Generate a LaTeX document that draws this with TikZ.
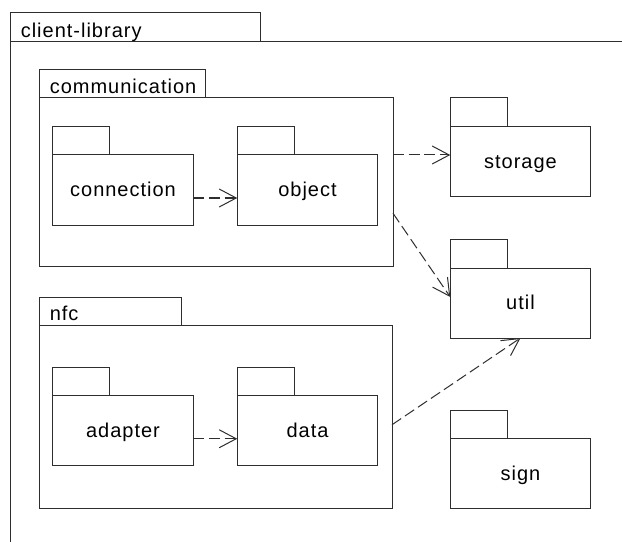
\documentclass[tikz,border=0pt]{standalone}
\usepackage{fontspec}
\setmainfont{Liberation Sans}[LetterSpace=5]
\usetikzlibrary{arrows.meta,calc}

% one unit = one pixel of the 622 x 542 canvas
\newdimen\pxu \pxu=0.75pt

\tikzset{
  ink/.style={draw=black!82, line width=0.75pt},
  txt/.style={font=\fontsize{15pt}{18pt}\selectfont, text=black},
  body/.style={ink, txt, rectangle, inner sep=0pt, outer sep=0pt},
  smallpkg/.style={body, minimum width=140.5\pxu, minimum height=70\pxu,
                   text height=10pt, text depth=0pt},
  tabbox/.style={ink, rectangle, inner sep=0pt, outer sep=0pt, anchor=south west,
                 minimum height=28.5\pxu},
  smalltab/.style={tabbox, minimum width=57\pxu},
  lbl/.style={txt, inner sep=0pt, anchor=base west},
  dep/.style={ink, dash pattern=on 8.25pt off 3.5pt,
              -{Straight Barb[length=12.75pt,width=13.5pt]}},
}

\begin{document}
\begin{tikzpicture}[x=0.75pt, y=-0.75pt]
\useasboundingbox (0,0) rectangle (622,542);

% outer package: client-library (right and bottom edges run off the canvas)
\node[tabbox, minimum width=250\pxu, minimum height=29\pxu] (client-tab) at (10,13) [anchor=north west] {};
\node[lbl] (client-label) at ($(client-tab.south west)+(10.5,-4.5)$) {client-library};
\draw[ink] (622,42) -- (client-tab.south west) -- (10,542);

% communication package
\node[body, minimum width=354\pxu, minimum height=168.5\pxu] (communication) at (216,182.25) {};
\node[tabbox, minimum width=166\pxu, minimum height=28\pxu] (communication-tab) at (communication.north west) {};
\node[lbl] (communication-label) at ($(communication-tab.south west)+(10.5,-4.5)$) {communication};

\node[smallpkg] (connection) at (123,190) {connection};
\node[smalltab] (connection-tab) at (connection.north west) {};
\node[smallpkg] (object) at (307.5,190) {object};
\node[smalltab] (object-tab) at (object.north west) {};

% nfc package
\node[body, minimum width=353\pxu, minimum height=183.5\pxu] (nfc) at (215.5,416.75) {};
\node[tabbox, minimum width=142\pxu, minimum height=28\pxu] (nfc-tab) at (nfc.north west) {};
\node[lbl] (nfc-label) at ($(nfc-tab.south west)+(10.5,-4.5)$) {nfc};

\node[smallpkg] (adapter) at (123,430.75) {adapter};
\node[smalltab] (adapter-tab) at (adapter.north west) {};
\node[smallpkg] (data) at (307.5,430.75) {data};
\node[smalltab] (data-tab) at (data.north west) {};

% stand-alone packages on the right
\node[smallpkg] (storage) at (520.5,161.5) {storage};
\node[smalltab] (storage-tab) at (storage.north west) {};
\node[smallpkg] (util) at (520.5,303) {util};
\node[smalltab] (util-tab) at (util.north west) {};
\node[smallpkg] (sign) at (520.5,473.75) {sign};
\node[smalltab] (sign-tab) at (sign.north west) {};

% dependencies
\draw[dep] ($(connection.east)+(0,8)$) -- ($(object.west)+(0,8)$);
\draw[dep] ($(adapter.east)+(0,8)$) -- ($(data.west)+(0,8)$);
\coordinate (storage-in) at ($(storage.west)+(0,-6.5)$);
\draw[dep] (communication.east |- storage-in) -- (storage-in);
\draw[dep] ($(communication.east)+(0,31)$) -- ($(util.west)+(0,-6)$);
\draw[dep] ($(nfc.east)+(0,8)$) -- (util.south);
\end{tikzpicture}
\end{document}
